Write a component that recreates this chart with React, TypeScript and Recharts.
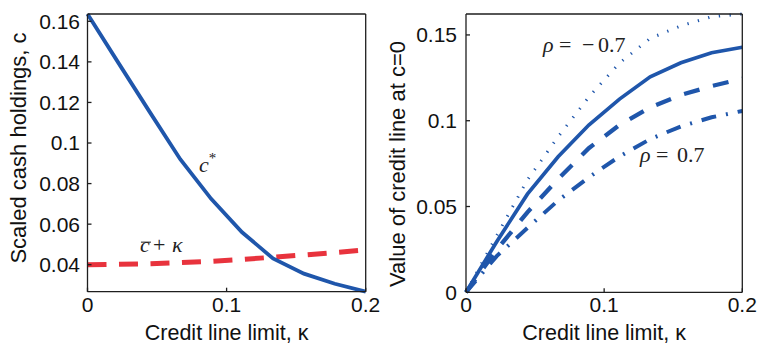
import React from 'react';
import { LineChart, Line, XAxis, YAxis, ReferenceDot, Label } from 'recharts';

// ---- data ----
const kappa = [0, 0.02222, 0.04444, 0.06667, 0.08889, 0.11111, 0.13333, 0.15556, 0.17778, 0.2];

// left panel
const cStar = [0.1636, 0.1395, 0.1156, 0.092, 0.0725, 0.056, 0.0431, 0.0356, 0.0306, 0.0267];
const cBarPlusKappa = [0.04, 0.0402, 0.0405, 0.041, 0.0417, 0.0426, 0.0437, 0.0448, 0.046, 0.0473];

// right panel
const valueDotted = [0, 0.033, 0.0655, 0.0906, 0.1138, 0.1336, 0.148, 0.1553, 0.1606, 0.1622];
const valueSolid = [0, 0.0295, 0.0572, 0.079, 0.0975, 0.1126, 0.1256, 0.1338, 0.1396, 0.1428];
const valueDashed = [0, 0.0248, 0.0466, 0.066, 0.084, 0.0975, 0.1078, 0.115, 0.1202, 0.1245];
const valueDashDot = [0, 0.0211, 0.0375, 0.0535, 0.067, 0.0792, 0.0893, 0.0967, 0.102, 0.1057];

const xTicks = [0, 0.1, 0.2];
const xDomain = [0, 0.2];
const leftYTicks = [0.04, 0.06, 0.08, 0.1, 0.12, 0.14, 0.16];
const leftYDomain = [0.0267, 0.1636];
const rightYTicks = [0, 0.05, 0.1, 0.15];
const rightYDomain = [0, 0.1622];

const leftData = kappa.map((k, i) => ({ k, cStar: cStar[i], cBar: cBarPlusKappa[i] }));
const rightData = kappa.map((k, i) => ({
  k,
  dotted: valueDotted[i],
  solid: valueSolid[i],
  dashed: valueDashed[i],
  dashDot: valueDashDot[i],
}));

const BLUE = '#1f56ab';
const RED = '#e8333d';
const AXIS = '#1e1e1e';
const SANS = '"Liberation Sans", Arial, Helvetica, sans-serif';
const SERIF = '"Liberation Serif", "Times New Roman", serif';

const fmt = (v: number) => String(+v.toFixed(2));
const tickStyle = { fill: '#111', fontSize: 21, fontFamily: SANS };

const xLabel = (text: string) => (props: any) => {
  const vb = props.viewBox;
  return (
    <text x={vb.x + vb.width / 2} y={340} textAnchor="middle" fontSize={21.5} fontFamily={SANS} fill="#111">
      {text}
    </text>
  );
};

const yLabel = (text: string, cx: number, cy: number) => () => (
  <text
    x={cx}
    y={cy}
    transform={`rotate(-90 ${cx} ${cy})`}
    textAnchor="middle"
    dominantBaseline="central"
    fontSize={22}
    fontFamily={SANS}
    fill="#111"
  >
    {text}
  </text>
);

const anchorOf = (props: any) => {
  const vb = props.viewBox || {};
  return { x: (vb.x || 0) + (vb.width || 0) / 2, y: (vb.y || 0) + (vb.height || 0) / 2 };
};

const CStarLabel = (props: any) => {
  const { x, y } = anchorOf(props);
  return (
    <text x={x} y={y} fontFamily={SERIF} fontSize={22} fill="#222">
      <tspan fontStyle="italic">c</tspan>
      <tspan dy={-9} fontSize={15}>*</tspan>
    </text>
  );
};

const CBarLabel = (props: any) => {
  const { x, y } = anchorOf(props);
  return (
    <g>
      <text x={x} y={y} fontFamily={SERIF} fontSize={22} fill="#222">
        <tspan fontStyle="italic">c</tspan>
        <tspan x={x + 13}>+</tspan>
        <tspan x={x + 32} fontStyle="italic">κ</tspan>
      </text>
      <line x1={x + 1} x2={x + 11} y1={y - 10} y2={y - 10} stroke="#222" strokeWidth={1} />
    </g>
  );
};

const RhoLabel = (value: string, negative: boolean) => (props: any) => {
  const { x, y } = anchorOf(props);
  return (
    <text x={x} y={y} fontFamily={SERIF} fontSize={22} fill="#222">
      <tspan fontStyle="italic">ρ</tspan>
      <tspan x={x + 16}>=</tspan>
      {negative ? <tspan x={x + 39}>−</tspan> : null}
      <tspan x={x + (negative ? 55 : 37)}>{value}</tspan>
    </text>
  );
};

export default function App() {
  return (
    <div style={{ position: 'absolute', left: 0, top: 0, width: 760, height: 347, background: '#fff' }}>
      <div style={{ position: 'absolute', left: 0, top: 0 }}>
        <LineChart width={380} height={347} data={leftData} margin={{ top: 13, right: 13.3, bottom: 0, left: 0 }}>
          <XAxis
            xAxisId="b"
            dataKey="k"
            type="number"
            domain={xDomain}
            ticks={xTicks}
            interval={0}
            tickSize={-4}
            tickMargin={9}
            height={55.3}
            stroke={AXIS}
            strokeWidth={1.3}
            tick={tickStyle}
            tickFormatter={fmt}
          >
            <Label content={xLabel('Credit line limit, κ')} />
          </XAxis>
          <XAxis xAxisId="t" orientation="top" dataKey="k" type="number" domain={xDomain} ticks={xTicks} interval={0} tickSize={-4} tick={false} height={1} stroke={AXIS} strokeWidth={1.3} />
          <YAxis
            yAxisId="l"
            type="number"
            domain={leftYDomain}
            ticks={leftYTicks}
            interval={0}
            width={87.5}
            tickSize={-4}
            tickMargin={11.5}
            stroke={AXIS}
            strokeWidth={1.3}
            tick={tickStyle}
            tickFormatter={fmt}
          >
            <Label content={yLabel('Scaled cash holdings, c', 18.5, 148)} />
          </YAxis>
          <YAxis yAxisId="r" orientation="right" type="number" domain={leftYDomain} ticks={leftYTicks} interval={0} width={1} tickSize={-4} tick={false} stroke={AXIS} strokeWidth={1.3} />
          <Line xAxisId="b" yAxisId="l" type="linear" dataKey="cBar" stroke={RED} strokeWidth={5} strokeDasharray="19 12.5" dot={false} isAnimationActive={false} />
          <Line xAxisId="b" yAxisId="l" type="linear" dataKey="cStar" stroke={BLUE} strokeWidth={3.8} dot={false} isAnimationActive={false} />
          <ReferenceDot xAxisId="b" yAxisId="l" x={0.0802} y={0.0855} r={0} fill="none" stroke="none" label={<CStarLabel />} />
          <ReferenceDot xAxisId="b" yAxisId="l" x={0.0377} y={0.0462} r={0} fill="none" stroke="none" label={<CBarLabel />} />
        </LineChart>
      </div>
      <div style={{ position: 'absolute', left: 380, top: 0 }}>
        <LineChart width={380} height={347} data={rightData} margin={{ top: 13, right: 16.7, bottom: 0, left: 0 }}>
          <XAxis
            xAxisId="b"
            dataKey="k"
            type="number"
            domain={xDomain}
            ticks={xTicks}
            interval={0}
            tickSize={-4}
            tickMargin={9}
            height={54.7}
            stroke={AXIS}
            strokeWidth={1.3}
            tick={tickStyle}
            tickFormatter={fmt}
          >
            <Label content={xLabel('Credit line limit, κ')} />
          </XAxis>
          <XAxis xAxisId="t" orientation="top" dataKey="k" type="number" domain={xDomain} ticks={xTicks} interval={0} tickSize={-4} tick={false} height={1} stroke={AXIS} strokeWidth={1.3} />
          <YAxis
            yAxisId="l"
            type="number"
            domain={rightYDomain}
            ticks={rightYTicks}
            interval={0}
            width={86}
            tickSize={-4}
            tickMargin={13}
            stroke={AXIS}
            strokeWidth={1.3}
            tick={tickStyle}
            tickFormatter={fmt}
          >
            <Label content={yLabel('Value of credit line at c=0', 17, 164)} />
          </YAxis>
          <YAxis yAxisId="r" orientation="right" type="number" domain={rightYDomain} ticks={rightYTicks} interval={0} width={1} tickSize={-4} tick={false} stroke={AXIS} strokeWidth={1.3} />
          <Line xAxisId="b" yAxisId="l" type="linear" dataKey="dotted" stroke={BLUE} strokeWidth={3} strokeDasharray="1.3 9.5" dot={false} isAnimationActive={false} />
          <Line xAxisId="b" yAxisId="l" type="linear" dataKey="solid" stroke={BLUE} strokeWidth={3.7} dot={false} isAnimationActive={false} />
          <Line xAxisId="b" yAxisId="l" type="linear" dataKey="dashed" stroke={BLUE} strokeWidth={4.3} strokeDasharray="16 14" dot={false} isAnimationActive={false} />
          <Line xAxisId="b" yAxisId="l" type="linear" dataKey="dashDot" stroke={BLUE} strokeWidth={4} strokeDasharray="15 10 2 10" dot={false} isAnimationActive={false} />
          <ReferenceDot xAxisId="b" yAxisId="l" x={0.0557} y={0.14} r={0} fill="none" stroke="none" label={<RhoLabelNeg />} />
          <ReferenceDot xAxisId="b" yAxisId="l" x={0.126} y={0.0759} r={0} fill="none" stroke="none" label={<RhoLabelPos />} />
        </LineChart>
      </div>
    </div>
  );
}

const RhoLabelNeg = RhoLabel('0.7', true);
const RhoLabelPos = RhoLabel('0.7', false);
